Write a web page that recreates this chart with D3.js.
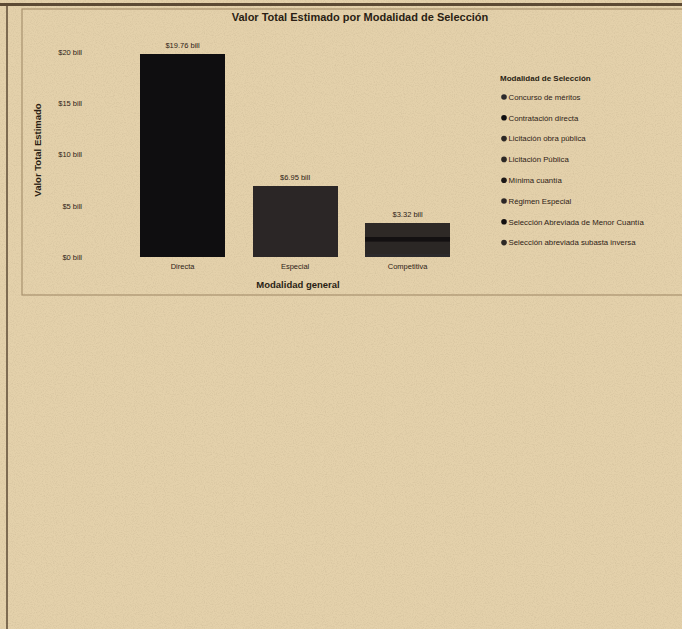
<!DOCTYPE html>
<html>
<head>
<meta charset="UTF-8">
<title>Valor Total Estimado por Modalidad de Selección</title>
<script src="https://d3js.org/d3.v7.min.js"></script>
<style>
  body { margin: 0; background: #e4d1ab; }
  svg { display: block; font-family: "Liberation Sans", Arial, sans-serif; }
</style>
</head>
<body>
<svg id="chart" width="682" height="629"></svg>
<script>
// data (billones de pesos)
const generales = ["Directa", "Especial", "Competitiva"];
const selecciones = [
  "Concurso de méritos",
  "Contratación directa",
  "Licitación obra pública",
  "Licitación Pública",
  "Mínima cuantía",
  "Régimen Especial",
  "Selección Abreviada de Menor Cuantía",
  "Selección abreviada subasta inversa"
];
// one array per modalidad de selección, in order of generales
const concursoMeritos   = [0, 0, 0.30];
const contratDirecta    = [19.76, 0, 0];
const licObraPublica    = [0, 0, 0.50];
const licPublica        = [0, 0, 0.70];
const minimaCuantia     = [0, 0, 0.10];
const regimenEspecial   = [0, 6.95, 0];
const selMenorCuantia   = [0, 0, 0.40];
const selSubastaInversa = [0, 0, 1.32];
const totalLabels = ["$19.76 bill", "$6.95 bill", "$3.32 bill"];
const yTicks = [0, 5, 10, 15, 20];
const yTickLabels = ["$0 bill", "$5 bill", "$10 bill", "$15 bill", "$20 bill"];

const series = [concursoMeritos, contratDirecta, licObraPublica, licPublica,
  minimaCuantia, regimenEspecial, selMenorCuantia, selSubastaInversa];

// table for d3.stack
const rows = generales.map((g, i) => {
  const r = { general: g };
  selecciones.forEach((s, j) => r[s] = series[j][i]);
  return r;
});

const svg = d3.select("#chart");

// paper texture
const defs = svg.append("defs");
const f = defs.append("filter").attr("id", "paper").attr("x", 0).attr("y", 0).attr("width", "100%").attr("height", "100%");
f.append("feTurbulence").attr("type", "fractalNoise").attr("baseFrequency", 0.9).attr("numOctaves", 2).attr("seed", 3);
f.append("feColorMatrix").attr("values", "0 0 0 0 0.45  0 0 0 0 0.36  0 0 0 0 0.22  0 0 0 0.9 -0.38");
svg.append("rect").attr("width", 682).attr("height", 629).attr("fill", "#e4d1ab");
svg.append("rect").attr("width", 682).attr("height", 629).attr("filter", "url(#paper)").attr("opacity", 0.6);

// frame lines
svg.append("line").attr("x1", 0).attr("x2", 682).attr("y1", 4.5).attr("y2", 4.5)
  .attr("stroke", "#5c4a34").attr("stroke-width", 3);
svg.append("line").attr("x1", 7).attr("x2", 7).attr("y1", 5).attr("y2", 629)
  .attr("stroke", "#5c4a34").attr("stroke-width", 1.5);
svg.append("rect").attr("x", 22).attr("y", 9).attr("width", 670).attr("height", 286)
  .attr("fill", "none").attr("stroke", "#a8926e").attr("stroke-width", 1.2);

const color = d3.scaleOrdinal()
  .domain(selecciones)
  .range(["#2c2a2c", "#0f0e10", "#2b2725", "#2b2725", "#1c1818", "#2b2626", "#131011", "#2e2926"]);

const x = d3.scaleBand()
  .domain(generales)
  .range([126.3, 463.8])
  .paddingInner(0.244)
  .paddingOuter(0.122);

const y = d3.scaleLinear()
  .domain([0, 20])
  .range([257, 52]);

// title
svg.append("text")
  .attr("x", 360).attr("y", 21)
  .attr("text-anchor", "middle")
  .attr("font-size", 11).attr("font-weight", "bold")
  .attr("fill", "#2a1e14")
  .text("Valor Total Estimado por Modalidad de Selección");

// y axis
const yAxis = svg.append("g")
  .attr("transform", "translate(84,0)")
  .call(d3.axisLeft(y).tickValues(yTicks).tickFormat((d, i) => yTickLabels[i]).tickSize(0).tickPadding(2));
yAxis.select(".domain").remove();
yAxis.selectAll("text").attr("font-size", 7.5).attr("fill", "#2e2216").attr("font-family", "Liberation Sans, Arial, sans-serif");

svg.append("text")
  .attr("transform", "translate(41,150) rotate(-90)")
  .attr("text-anchor", "middle")
  .attr("font-size", 9.5).attr("font-weight", "bold")
  .attr("fill", "#2a1e14")
  .text("Valor Total Estimado");

// x axis
const xAxis = svg.append("g")
  .attr("transform", "translate(0,257)")
  .call(d3.axisBottom(x).tickSize(0).tickPadding(7));
xAxis.select(".domain").remove();
xAxis.selectAll("text").attr("font-size", 7.5).attr("fill", "#2e2216").attr("font-family", "Liberation Sans, Arial, sans-serif");

svg.append("text")
  .attr("x", 298).attr("y", 288)
  .attr("text-anchor", "middle")
  .attr("font-size", 9.5).attr("font-weight", "bold")
  .attr("fill", "#2a1e14")
  .text("Modalidad general");

// stacked bars
const stacked = d3.stack().keys(selecciones)(rows);
svg.append("g")
  .attr("shape-rendering", "crispEdges")
  .selectAll("g")
  .data(stacked)
  .join("g")
  .attr("fill", d => color(d.key))
  .selectAll("rect")
  .data(d => d.filter(v => v[1] - v[0] > 0))
  .join("rect")
  .attr("x", d => x(d.data.general))
  .attr("y", d => y(d[1]))
  .attr("width", x.bandwidth())
  .attr("height", d => y(d[0]) - y(d[1]));

// totals
svg.append("g")
  .selectAll("text")
  .data(rows)
  .join("text")
  .attr("x", d => x(d.general) + x.bandwidth() / 2)
  .attr("y", (d, i) => y(d3.sum(series, s => s[i])) - 6)
  .attr("text-anchor", "middle")
  .attr("font-size", 7.5)
  .attr("fill", "#2e2216")
  .text((d, i) => totalLabels[i]);

// legend
const legend = svg.append("g").attr("transform", "translate(500,0)");
legend.append("text")
  .attr("x", 0).attr("y", 81)
  .attr("font-size", 8).attr("font-weight", "bold")
  .attr("fill", "#2a1e14")
  .text("Modalidad de Selección");
const item = legend.selectAll("g.item")
  .data(selecciones)
  .join("g")
  .attr("class", "item")
  .attr("transform", (d, i) => `translate(0,${97 + i * 20.8})`);
item.append("circle")
  .attr("cx", 4).attr("cy", 0).attr("r", 2.8)
  .attr("fill", d => color(d));
item.append("text")
  .attr("x", 8.5).attr("y", 2.8)
  .attr("font-size", 7.8)
  .attr("fill", "#2e2216")
  .text(d => d);
</script>
</body>
</html>
